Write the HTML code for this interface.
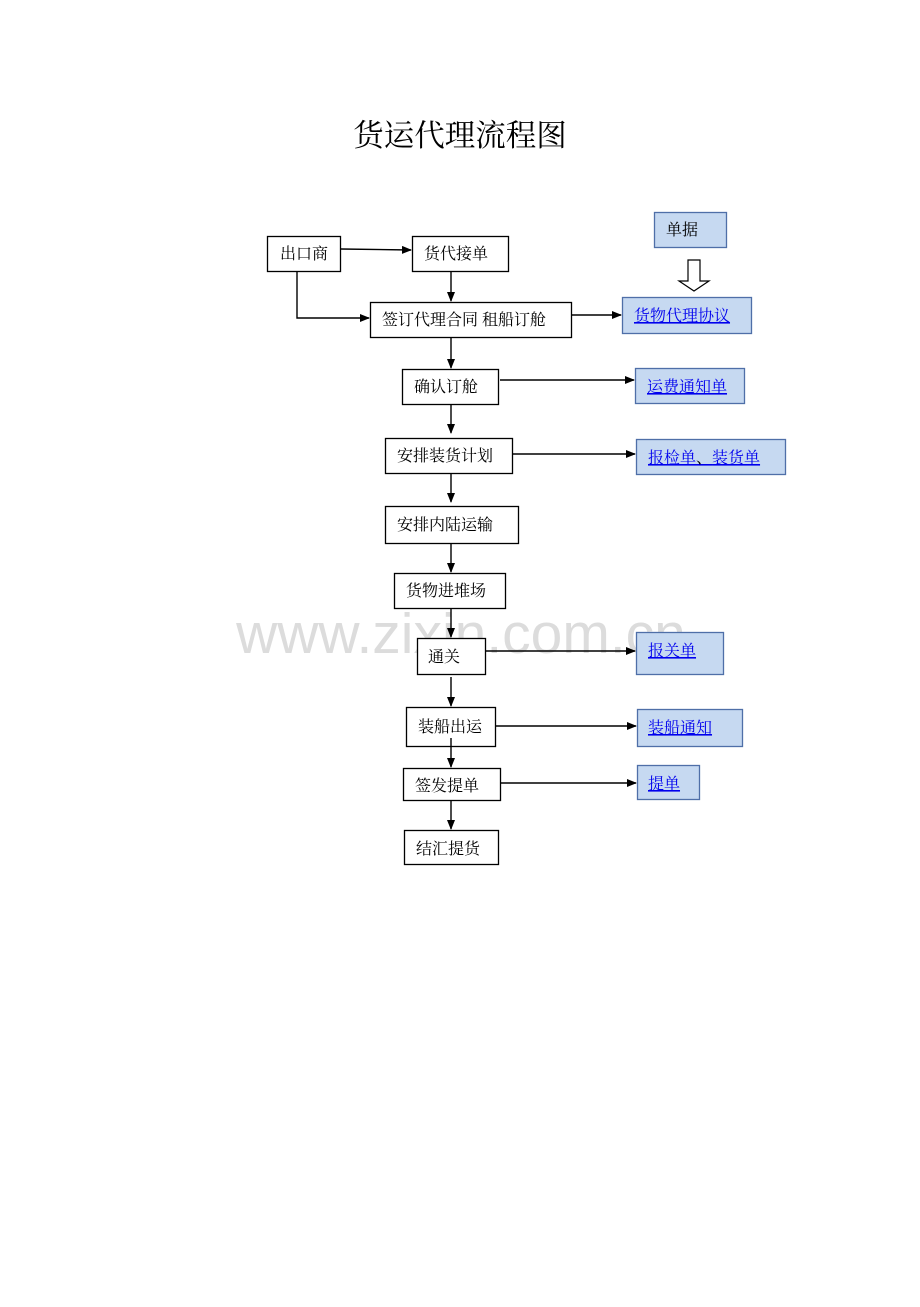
<!DOCTYPE html>
<html><head><meta charset="utf-8"><style>
body{margin:0;background:#fff;}
svg text{font-family:"Liberation Serif","Noto Serif CJK SC","Noto Sans CJK SC",serif;}
</style></head><body>
<svg width="920" height="1302" xmlns="http://www.w3.org/2000/svg">
<defs><marker id="a" markerWidth="10" markerHeight="8" refX="9" refY="4" orient="auto" markerUnits="userSpaceOnUse"><path d="M0,0 L10,4 L0,8 Z" fill="#000"/></marker></defs>
<text x="460" y="146" font-size="30.5" text-anchor="middle">货运代理流程图</text>
<text x="461" y="653" font-size="57" text-anchor="middle" fill="#dcdcdc" style="font-family:'Liberation Sans',sans-serif">www.zixin.com.cn</text>
<g fill="#fff" stroke="#000" stroke-width="1.3">
<rect x="267.5" y="236.5" width="73" height="35"/>
<rect x="412.5" y="236.5" width="96" height="35"/>
<rect x="370.5" y="302.5" width="201" height="35"/>
<rect x="402.5" y="369.5" width="96" height="35"/>
<rect x="385.5" y="438.5" width="127" height="35"/>
<rect x="385.5" y="506.5" width="133" height="37"/>
<rect x="394.5" y="573.5" width="111" height="35"/>
<rect x="417.5" y="638.5" width="68" height="36"/>
<rect x="406.5" y="707.5" width="89" height="39"/>
<rect x="403.5" y="768.5" width="97" height="32"/>
<rect x="404.5" y="830.5" width="94" height="34"/>
</g>
<g fill="#c6d9f1" stroke="#4f6fa8" stroke-width="1.3">
<rect x="654.5" y="212.5" width="72" height="35"/>
<rect x="622.5" y="297.5" width="129" height="36"/>
<rect x="635.5" y="368.5" width="109" height="35"/>
<rect x="636.5" y="439.5" width="149" height="35"/>
<rect x="636.5" y="632.5" width="87" height="42"/>
<rect x="637.5" y="709.5" width="105" height="37"/>
<rect x="637.5" y="765.5" width="62" height="34"/>
</g>
<path d="M688,260 L700,260 L700,281 L709,281 L694,291 L679,281 L688,281 Z" fill="#fff" stroke="#000" stroke-width="1.2"/>
<g stroke="#000" stroke-width="1.4" fill="none" marker-end="url(#a)">
<path d="M341,249 L411,250"/>
<path d="M297,272 L297,318 L369,318"/>
<path d="M451,272 L451,301"/>
<path d="M572,315 L621,315"/>
<path d="M451,338 L451,368"/>
<path d="M500,380 L634,380"/>
<path d="M451,405 L451,433"/>
<path d="M513,454 L635,454"/>
<path d="M451,474 L451,502"/>
<path d="M451,544 L451,572"/>
<path d="M451,609 L451,637"/>
<path d="M486,651 L635,651"/>
<path d="M451,677 L451,706"/>
<path d="M496,726 L636,726"/>
<path d="M451,738 L451,767"/>
<path d="M501,783 L636,783"/>
<path d="M451,801 L451,829"/>
</g>
<g font-size="16" fill="#000">
<text x="280" y="259">出口商</text>
<text x="424" y="259">货代接单</text>
<text x="382" y="325">签订代理合同  租船订舱</text>
<text x="414" y="392">确认订舱</text>
<text x="397" y="461">安排装货计划</text>
<text x="397" y="530">安排内陆运输</text>
<text x="406" y="596">货物进堆场</text>
<text x="428" y="662">通关</text>
<text x="418" y="732">装船出运</text>
<text x="415" y="791">签发提单</text>
<text x="416" y="854">结汇提货</text>
<text x="666" y="235">单据</text>
</g>
<g font-size="16" fill="#0000ee" text-decoration="underline">
<text x="634" y="321">货物代理协议</text>
<text x="647" y="392">运费通知单</text>
<text x="648" y="463">报检单<tspan fill="#000" text-decoration="none">、</tspan>装货单</text>
<text x="648" y="656">报关单</text>
<text x="648" y="733">装船通知</text>
<text x="648" y="789">提单</text>
</g>
</svg>
</body></html>
